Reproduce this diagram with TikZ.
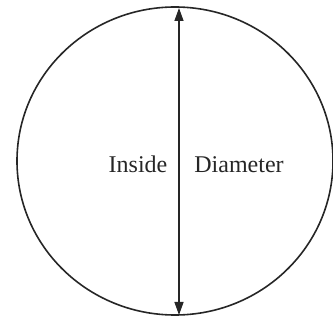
\documentclass[tikz,border=0pt]{standalone}
\usepackage{fontspec}
\setmainfont{Liberation Serif}
\usetikzlibrary{arrows.meta,shapes.geometric}
\begin{document}
\begin{tikzpicture}[x=1pt,y=1pt,
  rim/.style={draw=black!85,line width=1.6pt,ellipse,inner sep=0pt,minimum width=316pt,minimum height=308pt},
  dim/.style={draw=black!85,line width=1.3pt,{Triangle[length=13pt,width=9pt]}-{Triangle[length=13pt,width=9pt]}},
  lbl/.style={font=\fontsize{24}{27}\selectfont,text=black!85,anchor=base,inner sep=0pt}]
\useasboundingbox (0,0) rectangle (333,322);
\node[rim] (c) at (175,161) {};
\coordinate (top) at (179,314);
\coordinate (bot) at (179,7);
\draw[dim] (bot) -- (top);
\node[lbl] (ins) at (138,149) {Inside};
\node[lbl] (dia) at (239,149) {Diameter};
\end{tikzpicture}
\end{document}
